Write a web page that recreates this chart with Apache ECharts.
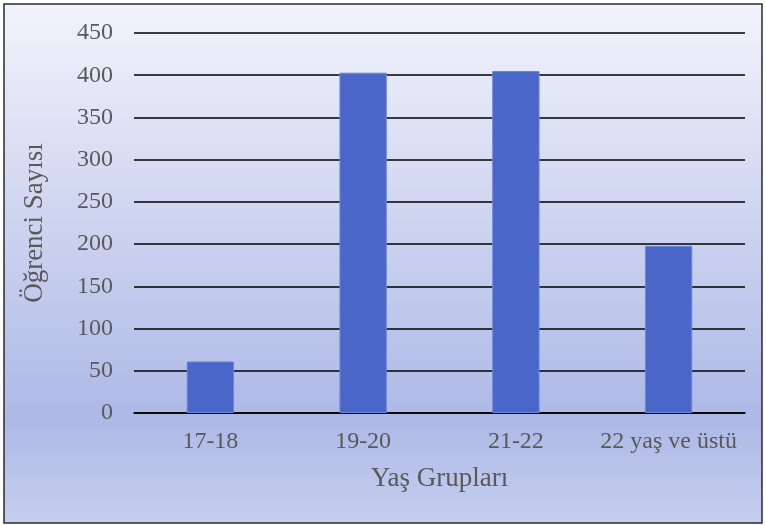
<!DOCTYPE html>
<html>
<head>
<meta charset="utf-8">
<script src="https://cdn.jsdelivr.net/npm/echarts@6/dist/echarts.min.js"></script>
<style>
html,body{margin:0;padding:0;background:#fff;}
#chart{width:766px;height:526px;}
</style>
</head>
<body>
<div id="chart"></div>
<script>
const categories = ['17-18', '19-20', '21-22', '22 yaş ve üstü'];
const values = [61, 403, 405, 198];
const yTicks = [0, 50, 100, 150, 200, 250, 300, 350, 400, 450];

const chart = echarts.init(document.getElementById('chart'));
const font = '"Liberation Serif", "Times New Roman", serif';
chart.setOption({
  animation: false,
  graphic: [{
    type: 'rect', z: -10, silent: true,
    shape: { x: 4, y: 4, width: 758, height: 519 },
    style: {
      fill: new echarts.graphic.LinearGradient(0, 0, 0, 1, [
        { offset: 0, color: '#f2f3fb' },
        { offset: 0.8, color: '#adb8e6' },
        { offset: 1, color: '#c7cfef' }
      ]),
      stroke: '#2b2b2b', lineWidth: 1.5
    }
  }],
  grid: { left: 134, right: 21, top: 33, bottom: 113 },
  xAxis: {
    type: 'category',
    data: categories,
    name: 'Yaş Grupları',
    nameLocation: 'middle',
    nameGap: 52,
    nameTextStyle: { fontFamily: font, fontSize: 27, color: '#595959' },
    axisLine: { show: true, lineStyle: { color: '#000', width: 1.5 } },
    axisTick: { show: false },
    axisLabel: { interval: 0, fontFamily: font, fontSize: 24, color: '#595959', margin: 17 }
  },
  yAxis: {
    type: 'value',
    min: yTicks[0],
    max: yTicks[yTicks.length - 1],
    interval: 50,
    name: 'Öğrenci Sayısı',
    nameLocation: 'middle',
    nameGap: 86,
    nameTextStyle: { fontFamily: font, fontSize: 27, color: '#595959' },
    axisLine: { show: false },
    axisTick: { show: false },
    splitLine: { show: true, lineStyle: { color: '#000', width: 1.5 } },
    axisLabel: { fontFamily: font, fontSize: 24, color: '#595959', margin: 21 }
  },
  series: [{
    type: 'bar',
    data: values,
    barWidth: '31%',
    itemStyle: { color: '#4a66c8', borderColor: '#6f86d8', borderWidth: 1 }
  }]
});
</script>
</body>
</html>
